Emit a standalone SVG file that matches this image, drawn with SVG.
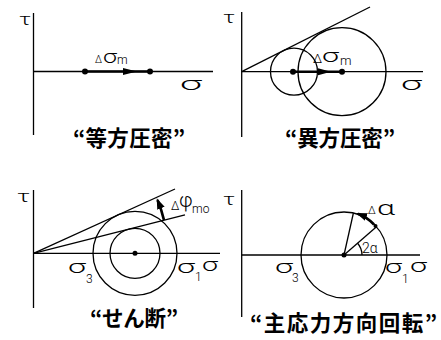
<svg xmlns="http://www.w3.org/2000/svg" width="441" height="340" viewBox="0 0 441 340">
<style>
.ln{stroke:#000;stroke-width:1.3;fill:none}
.th{stroke:#000;stroke-width:2.6;fill:none}
.dot{fill:#000}
.g{font-family:Roboto,"Liberation Sans",sans-serif;font-weight:300;fill:#000}
.cap{font-family:"Noto Sans CJK JP",sans-serif;font-weight:bold;font-size:21.5px;fill:#000;text-anchor:middle}
</style>
<defs>
<marker id="ah" markerWidth="11" markerHeight="8" refX="9" refY="4" orient="auto" markerUnits="userSpaceOnUse">
<path d="M0,0 L11,4 L0,8 z" fill="#000"/>
</marker>
</defs>
<rect width="441" height="340" fill="#fff"/>

<g id="panel-isotropic">
<line class="ln" x1="33.5" y1="13" x2="33.5" y2="135"/>
<line class="ln" x1="33.5" y1="71.5" x2="213" y2="71.5"/>
<line class="th" x1="85" y1="71.5" x2="150" y2="71.5"/>
<polygon class="dot" points="123,68 137,71.5 123,75"/>
<circle class="dot" cx="85" cy="71.5" r="3"/>
<circle class="dot" cx="150" cy="71.5" r="3"/>
<text class="g" x="19" y="25" font-size="17" textLength="12" lengthAdjust="spacingAndGlyphs">τ</text>
<text class="g" x="95" y="63" font-size="10">Δ</text>
<text class="g" x="103" y="63" font-size="19" textLength="14" lengthAdjust="spacingAndGlyphs">σ</text>
<text class="g" x="117" y="64" font-size="12">m</text>
<text class="g" x="180" y="90" font-size="19" textLength="22" lengthAdjust="spacingAndGlyphs">σ</text>
<text class="cap" x="129" y="146" textLength="112" lengthAdjust="spacing">“等方圧密”</text>
</g>

<g id="panel-anisotropic">
<line class="ln" x1="241.7" y1="12" x2="241.7" y2="137"/>
<line class="ln" x1="241.7" y1="71.7" x2="423" y2="71.7"/>
<line class="ln" x1="241.7" y1="71.7" x2="370" y2="7"/>
<circle class="ln" cx="294" cy="71.7" r="23.5"/>
<circle class="ln" cx="342" cy="71.7" r="44"/>
<line class="th" x1="293" y1="71.7" x2="342" y2="71.7"/>
<polygon class="dot" points="318,68.2 331,71.7 318,75.2"/>
<circle class="dot" cx="293" cy="71.7" r="3"/>
<circle class="dot" cx="342" cy="71.7" r="3"/>
<text class="g" x="223" y="23" font-size="17" textLength="12" lengthAdjust="spacingAndGlyphs">τ</text>
<text class="g" x="313" y="63" font-size="13">Δ</text>
<text class="g" x="322" y="62" font-size="19" textLength="17" lengthAdjust="spacingAndGlyphs">σ</text>
<text class="g" x="340" y="65" font-size="13">m</text>
<text class="g" x="401" y="90" font-size="19" textLength="21" lengthAdjust="spacingAndGlyphs">σ</text>
<text class="cap" x="340" y="146" textLength="110" lengthAdjust="spacing">“異方圧密”</text>
</g>

<g id="panel-shear">
<line class="ln" x1="33.5" y1="190" x2="33.5" y2="308"/>
<line class="ln" x1="33.5" y1="253.3" x2="220" y2="253.3"/>
<line class="ln" x1="33.5" y1="253.3" x2="175" y2="189"/>
<line class="ln" x1="33.5" y1="253.3" x2="185" y2="214.8"/>
<circle class="ln" cx="135" cy="253.3" r="42"/>
<circle class="ln" cx="135" cy="253.3" r="25"/>
<circle class="dot" cx="135" cy="253.3" r="2.5"/>
<path class="th" d="M164,220.1 A134.7 134.7 0 0 0 157.5,200" marker-end="url(#ah)"/>
<text class="g" x="17" y="202" font-size="17" textLength="13" lengthAdjust="spacingAndGlyphs">τ</text>
<text class="g" x="171" y="210" font-size="12">Δ</text>
<text class="g" x="179" y="207" font-size="20">φ</text>
<text class="g" x="192" y="213" font-size="12">mo</text>
<text class="g" x="68" y="273" font-size="19" textLength="18" lengthAdjust="spacingAndGlyphs">σ</text>
<text class="g" x="86" y="283" font-size="12">3</text>
<text class="g" x="177" y="273" font-size="19" textLength="18" lengthAdjust="spacingAndGlyphs">σ</text>
<text class="g" x="195" y="281" font-size="12">1</text>
<text class="g" x="202" y="271" font-size="19" textLength="16" lengthAdjust="spacingAndGlyphs">σ</text>
<text class="cap" x="134" y="326" textLength="88" lengthAdjust="spacing">“せん断”</text>
</g>

<g id="panel-rotation">
<line class="ln" x1="241.7" y1="190" x2="241.7" y2="317"/>
<line class="ln" x1="241.7" y1="255" x2="420" y2="255"/>
<circle class="ln" cx="344" cy="255" r="43"/>
<line class="ln" x1="344" y1="255" x2="353.4" y2="213"/>
<line class="ln" x1="344" y1="255" x2="376.5" y2="226.8"/>
<path class="ln" d="M362,255 A18 18 0 0 0 357.6,243.2"/>
<path class="th" d="M374,224.5 A43 43 0 0 0 358,213.8" marker-end="url(#ah)"/>
<circle class="dot" cx="344" cy="255" r="2.5"/>
<circle class="dot" cx="375.5" cy="226" r="2"/>
<text class="g" x="223" y="205" font-size="17" textLength="12" lengthAdjust="spacingAndGlyphs">τ</text>
<text class="g" x="368" y="214" font-size="11">Δ</text>
<text class="g" x="377" y="215" font-size="20" textLength="18" lengthAdjust="spacingAndGlyphs">α</text>
<text class="g" x="362" y="253" font-size="14">2α</text>
<text class="g" x="275" y="273" font-size="19" textLength="18" lengthAdjust="spacingAndGlyphs">σ</text>
<text class="g" x="292" y="282" font-size="12">3</text>
<text class="g" x="385" y="273" font-size="19" textLength="17" lengthAdjust="spacingAndGlyphs">σ</text>
<text class="g" x="402" y="283" font-size="12">1</text>
<text class="g" x="410" y="272" font-size="19" textLength="17" lengthAdjust="spacingAndGlyphs">σ</text>
<text class="cap" x="343.5" y="331" textLength="187" lengthAdjust="spacing">“主応力方向回転”</text>
</g>
</svg>
